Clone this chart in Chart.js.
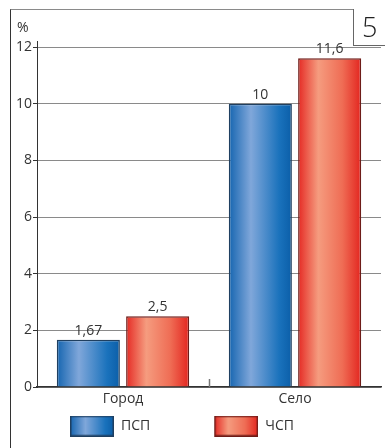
<!DOCTYPE html>
<html>
<head>
<meta charset="utf-8">
<script src="https://cdn.jsdelivr.net/npm/chart.js@4.4.1/dist/chart.umd.min.js"></script>
<style>
    html, body { margin: 0; padding: 0; background: #fff; }
    #wrap { position: relative; width: 385px; height: 448px; overflow: hidden; }
    #frame {
        position: absolute; left: 10px; top: 9px; right: -5px; bottom: -5px;
        border-top: 1.5px solid #8a8a8a; border-left: 1.5px solid #333;
    }
    #num {
        position: absolute; left: 353px; top: 9px; width: 40px; height: 37px;
        border: 1px solid #666; border-top: none; background: #fff;
        font: 300 27px "Open Sans", sans-serif; color: #222;
        padding-left: 8px; line-height: 36px; box-sizing: border-box;
    }
    canvas { position: absolute; left: 0; top: 0; }
</style>
</head>
<body>
<div id="wrap">
    <div id="frame"></div>
    <canvas id="chart" width="385" height="448"></canvas>
    <div id="num">5</div>
</div>
<script>
// Data
const categories = ['Город', 'Село'];
const psp = [1.67, 10];
const chsp = [2.5, 11.6];
const seriesNames = ['ПСП', 'ЧСП'];
const yTicks = [0, 2, 4, 6, 8, 10, 12];
const unitLabel = '%';

const CAT_PCT = 0.806;
const BAR_PCT = 0.91;

// legend swatch size and the empty lead-in before each swatch
const SW_W = 44, SW_H = 21, SW_GAP = 60;

// Gradient stops for each series (left -> right across a bar)
const blueStops = [[0, '#1565b0'], [0.35, '#80a7da'], [0.8, '#1a72bc'], [1, '#0b5ea8']];
const redStops = [[0, '#e52a24'], [0.32, '#f59c7f'], [0.7, '#ef6d55'], [1, '#e3251f']];

function makeGradient(ctx, x0, x1, stops) {
    const g = ctx.createLinearGradient(x0, 0, x1, 0);
    stops.forEach(s => g.addColorStop(s[0], s[1]));
    return g;
}

// Horizontal gradient placed over the bar, computed from the category scale
function barFill(stops) {
    return function(context) {
        const chart = context.chart;
        const xs = chart.scales.x;
        if (!xs || context.dataIndex === undefined) return stops[1][1];
        const center = xs.getPixelForValue(context.dataIndex);
        const catW = xs.width / categories.length;
        const slot = catW * CAT_PCT / 2;
        const mid = center + (context.datasetIndex - 0.5) * slot;
        const w = slot * BAR_PCT;
        if (!isFinite(mid) || !isFinite(w) || w <= 0) return stops[1][1];
        return makeGradient(chart.ctx, mid - w / 2, mid + w / 2, stops);
    };
}

// Legend marker: transparent lead-in followed by a gradient swatch
function swatch(stops, border) {
    const c = document.createElement('canvas');
    c.width = SW_GAP + SW_W; c.height = SW_H;
    const g = c.getContext('2d');
    g.translate(SW_GAP, 0);
    g.fillStyle = makeGradient(g, 0, SW_W, stops);
    g.fillRect(0, 0, SW_W, SW_H);
    g.strokeStyle = border;
    g.lineWidth = 1.5;
    g.strokeRect(0.75, 0.75, SW_W - 1.5, SW_H - 1.5);
    return c;
}

const fontFamily = '"Open Sans", "Noto Sans", sans-serif';
const textColor = '#333';

// Value labels over bars, unit label, divider tick between categories
const extras = {
    id: 'extras',
    afterDatasetsDraw(chart) {
        const ctx = chart.ctx;
        const xs = chart.scales.x, ys = chart.scales.y;
        ctx.save();
        // category divider tick
        const divX = Math.round((xs.getPixelForValue(0) + xs.getPixelForValue(1)) / 2) + 0.5;
        ctx.strokeStyle = '#777';
        ctx.lineWidth = 1.5;
        ctx.beginPath();
        ctx.moveTo(divX, ys.bottom);
        ctx.lineTo(divX, ys.bottom - 8);
        ctx.stroke();
        // y axis runs a little above the top grid line
        ctx.strokeStyle = '#333';
        ctx.lineWidth = 1;
        ctx.beginPath();
        ctx.moveTo(xs.left + 0.5, ys.top - 6);
        ctx.lineTo(xs.left + 0.5, ys.top);
        ctx.stroke();
        ctx.fillStyle = textColor;
        // unit above the y axis labels
        ctx.font = '14px ' + fontFamily;
        ctx.textAlign = 'left';
        ctx.textBaseline = 'middle';
        ctx.fillText(unitLabel, ys.left + 11, ys.top - 19);
        // value labels
        ctx.textAlign = 'center';
        ctx.textBaseline = 'bottom';
        chart.data.datasets.forEach((ds, di) => {
            chart.getDatasetMeta(di).data.forEach((bar, i) => {
                const txt = String(ds.data[i]).replace('.', ',');
                ctx.fillText(txt, bar.x, bar.y - 2);
            });
        });
        ctx.restore();
    }
};

const chart = new Chart(document.getElementById('chart'), {
    type: 'bar',
    data: {
        labels: categories,
        datasets: [
            {
                label: seriesNames[0],
                data: psp,
                backgroundColor: barFill(blueStops),
                borderColor: '#1f3f60',
                borderWidth: 1.5,
                pointStyle: swatch(blueStops, '#1f3f60')
            },
            {
                label: seriesNames[1],
                data: chsp,
                backgroundColor: barFill(redStops),
                borderColor: '#6e1c18',
                borderWidth: 1.5,
                pointStyle: swatch(redStops, '#6e1c18')
            }
        ]
    },
    options: {
        responsive: false,
        animation: false,
        categoryPercentage: CAT_PCT,
        barPercentage: BAR_PCT,
        layout: { padding: { left: 6, right: 4, top: 47, bottom: 5 } },
        scales: {
            x: {
                grid: { display: false, drawTicks: false },
                border: { color: '#333', width: 1.5 },
                ticks: { color: textColor, font: { family: fontFamily, size: 14 }, padding: 4 },
                afterFit(scale) { scale.height = 28; }
            },
            y: {
                min: 0,
                max: 12,
                afterBuildTicks(scale) {
                    scale.ticks = yTicks.map(v => ({ value: v }));
                },
                afterFit(scale) { scale.width = 31; },
                grid: { color: '#8a8a8a', lineWidth: 1, tickLength: 4, tickColor: '#333' },
                border: { color: '#333', width: 1 },
                ticks: { color: textColor, font: { family: fontFamily, size: 14 }, padding: 1 }
            }
        },
        plugins: {
            legend: {
                position: 'bottom',
                align: 'start',
                labels: {
                    usePointStyle: true,
                    pointStyleWidth: SW_GAP + SW_W,
                    padding: 4,
                    color: textColor,
                    font: { family: fontFamily, size: 14 }
                }
            },
            title: { display: false },
            tooltip: { enabled: false }
        }
    },
    plugins: [extras]
});
</script>
</body>
</html>
